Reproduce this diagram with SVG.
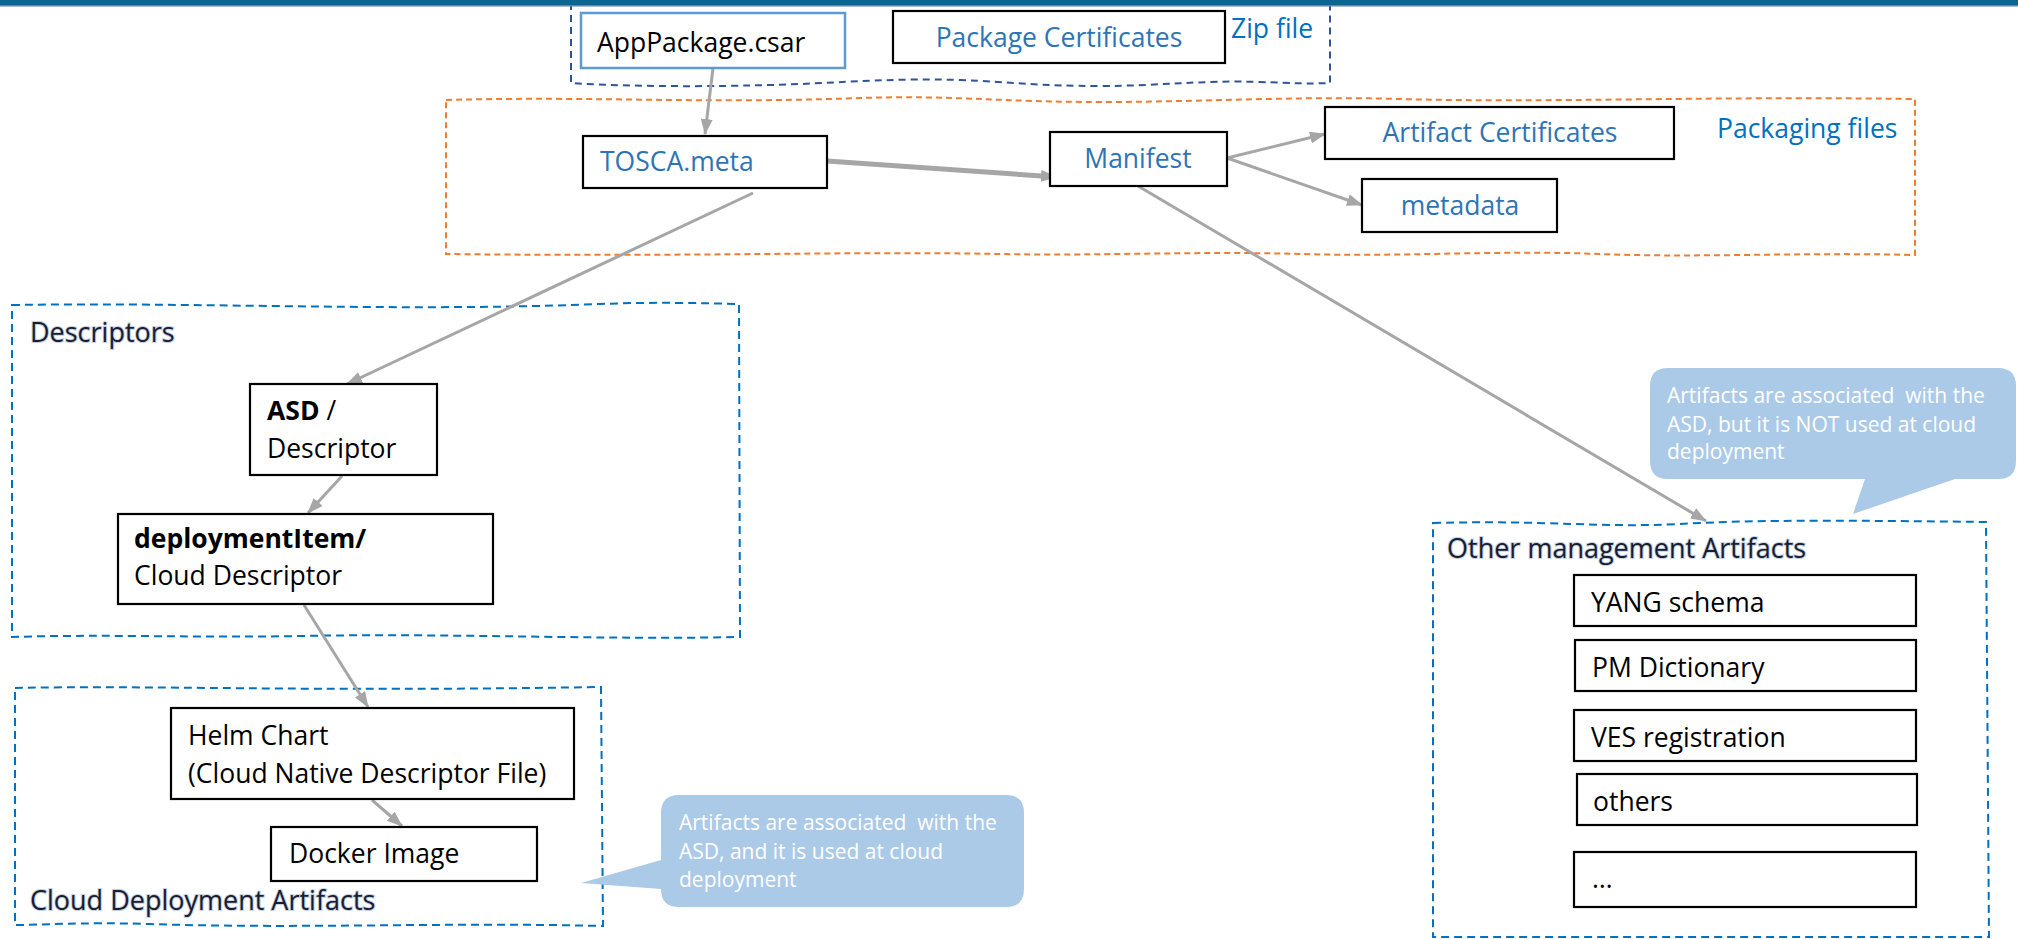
<svg xmlns="http://www.w3.org/2000/svg" width="2018" height="939" viewBox="0 0 2018 939">
<style>
.box{fill:#fff;stroke:#000;stroke-width:2.2}
.t{font-family:"Open Sans","Noto Sans",sans-serif;font-size:26.5px;fill:#000}
.tb{fill:#2e74b5}
.lbl{font-family:"Open Sans","Noto Sans",sans-serif;font-size:26.5px;fill:#0070c0}
.clab{font-family:"Open Sans","Noto Sans",sans-serif;font-size:27px;fill:#1c1c30;stroke:#c3d3e6;stroke-width:2;paint-order:stroke}
.ct{font-family:"Open Sans","Noto Sans",sans-serif;font-size:21px;fill:#fff}
.cbl{fill:none;stroke:#0070c0;stroke-width:2;stroke-dasharray:8 5}
.conn{fill:none;stroke:#a6a6a6;stroke-width:3;marker-end:url(#ah)}
.call{fill:#abcae8}
</style>
<defs>
<marker id="ah" viewBox="0 0 16 12" refX="15" refY="6" markerWidth="16" markerHeight="12" orient="auto" markerUnits="userSpaceOnUse"><path d="M0,0 L16,6 L0,12 z" fill="#a6a6a6"/></marker>
</defs>
<rect width="2018" height="939" fill="#fff"/>

<g id="zip-container">
<path d="M571,3 L571,83 C650,88 750,86 800,84 C850,82 900,78 960,80 C1010,82 1040,86 1100,86 C1160,86 1200,80 1260,82 C1290,83 1310,84 1330,83 L1330,3 Z" fill="none" stroke="#2f5597" stroke-width="2" stroke-dasharray="7 5"/>
<text class="lbl" x="1231" y="38">Zip file</text>
</g>
<g id="packaging-container">
<path d="M446,100 C600,96 700,104 860,98 C950,95 1000,102 1100,102 C1200,102 1300,96 1400,99 C1550,103 1700,96 1915,99 L1915,255 C1800,252 1700,258 1600,254 C1500,250 1400,257 1300,254 C1200,251 1100,256 1000,254 C850,251 700,257 446,254 Z" fill="none" stroke="#ed7d31" stroke-width="2" stroke-dasharray="6 4"/>
<text class="lbl" x="1717" y="138">Packaging files</text>
</g>
<g id="descriptors-container">
<path class="cbl" d="M12,305 C200,302 400,312 600,304 C650,302 700,303 739,304 L740,637 C600,640 450,633 300,636 C200,638 100,634 12,637 Z"/>
<text class="clab" x="30" y="342">Descriptors</text>
</g>
<g id="cloud-container">
<path class="cbl" d="M15,688 C150,685 300,692 601,687 L603,926 C450,922 300,929 150,924 C80,922 40,925 15,925 Z"/>
<text class="clab" x="30" y="910">Cloud Deployment Artifacts</text>
</g>
<g id="other-container">
<path class="cbl" d="M1433,523 C1550,520 1600,528 1680,524 C1720,522 1760,519 1986,522 L1989,937 L1433,937 Z"/>
<text class="clab" x="1447" y="558">Other management Artifacts</text>
</g>

<rect x="0" y="0" width="2018" height="5" fill="#0b6591"/>
<rect x="0" y="5" width="2018" height="1.5" fill="#5b86ad"/>

<g id="connectors">
<line class="conn" x1="713" y1="68" x2="705" y2="134"/>
<line class="conn" x1="827" y1="161" x2="1056" y2="177" style="stroke-width:5"/>
<line class="conn" x1="1227" y1="158" x2="1325" y2="134"/>
<line class="conn" x1="1227" y1="158" x2="1362" y2="205"/>
<line class="conn" x1="753" y1="193" x2="347" y2="384"/>
<line class="conn" x1="1138" y1="186" x2="1706" y2="521"/>
<line class="conn" x1="342" y1="476" x2="308" y2="513"/>
<line class="conn" x1="304" y1="605" x2="368" y2="707"/>
<line class="conn" x1="372" y1="800" x2="402" y2="826"/>
</g>

<g id="apppackage">
<rect x="581" y="13" width="264" height="55" fill="#fff" stroke="#5b9bd5" stroke-width="2.5"/>
<text class="t" x="597" y="52">AppPackage.csar</text>
</g>
<g id="package-certificates">
<rect class="box" x="893" y="11" width="332" height="52"/>
<text class="t tb" x="1059" y="47" text-anchor="middle">Package Certificates</text>
</g>
<g id="tosca-meta">
<rect class="box" x="583" y="136" width="244" height="52"/>
<text class="t tb" x="600" y="171">TOSCA.meta</text>
</g>
<g id="manifest">
<rect class="box" x="1050" y="132" width="177" height="54"/>
<text class="t tb" x="1138" y="168" text-anchor="middle">Manifest</text>
</g>
<g id="artifact-certificates">
<rect class="box" x="1325" y="107" width="349" height="52"/>
<text class="t tb" x="1500" y="142" text-anchor="middle">Artifact Certificates</text>
</g>
<g id="metadata">
<rect class="box" x="1362" y="179" width="195" height="53"/>
<text class="t tb" x="1460" y="215" text-anchor="middle">metadata</text>
</g>
<g id="asd">
<rect class="box" x="250" y="384" width="187" height="91"/>
<text class="t" x="267" y="420"><tspan font-weight="700">ASD</tspan> /</text>
<text class="t" x="267" y="458">Descriptor</text>
</g>
<g id="deployment-item">
<rect class="box" x="118" y="514" width="375" height="90"/>
<text class="t" x="134" y="548" font-weight="700">deploymentItem/</text>
<text class="t" x="134" y="585">Cloud Descriptor</text>
</g>
<g id="helm-chart">
<rect class="box" x="171" y="708" width="403" height="91"/>
<text class="t" x="188" y="745">Helm Chart</text>
<text class="t" x="188" y="783">(Cloud Native Descriptor File)</text>
</g>
<g id="docker-image">
<rect class="box" x="271" y="827" width="266" height="54"/>
<text class="t" x="289" y="863">Docker Image</text>
</g>
<g id="yang">
<rect class="box" x="1574" y="575" width="342" height="51"/>
<text class="t" x="1591" y="612">YANG schema</text>
</g>
<g id="pm-dictionary">
<rect class="box" x="1575" y="640" width="341" height="51"/>
<text class="t" x="1592" y="677">PM Dictionary</text>
</g>
<g id="ves">
<rect class="box" x="1574" y="710" width="342" height="51"/>
<text class="t" x="1591" y="747">VES registration</text>
</g>
<g id="others">
<rect class="box" x="1577" y="774" width="340" height="51"/>
<text class="t" x="1593" y="811">others</text>
</g>
<g id="ellipsis">
<rect class="box" x="1574" y="852" width="342" height="55"/>
<text class="t" x="1592" y="888">…</text>
</g>

<g id="callout-used">
<path class="call" d="M679,795 H1006 Q1024,795 1024,813 V889 Q1024,907 1006,907 H679 Q661,907 661,889 L581,883 L661,860 V813 Q661,795 679,795 Z"/>
<text class="ct" x="679" y="830" xml:space="preserve">Artifacts are associated  with the</text>
<text class="ct" x="679" y="859">ASD, and it is used at cloud</text>
<text class="ct" x="679" y="887">deployment</text>
</g>
<g id="callout-not-used">
<path class="call" d="M1668,368 H1998 Q2016,368 2016,386 V461 Q2016,479 1998,479 H1955 L1853,514 L1865,479 H1668 Q1650,479 1650,461 V386 Q1650,368 1668,368 Z"/>
<text class="ct" x="1667" y="403" xml:space="preserve">Artifacts are associated  with the</text>
<text class="ct" x="1667" y="432">ASD, but it is NOT used at cloud</text>
<text class="ct" x="1667" y="459">deployment</text>
</g>
</svg>
